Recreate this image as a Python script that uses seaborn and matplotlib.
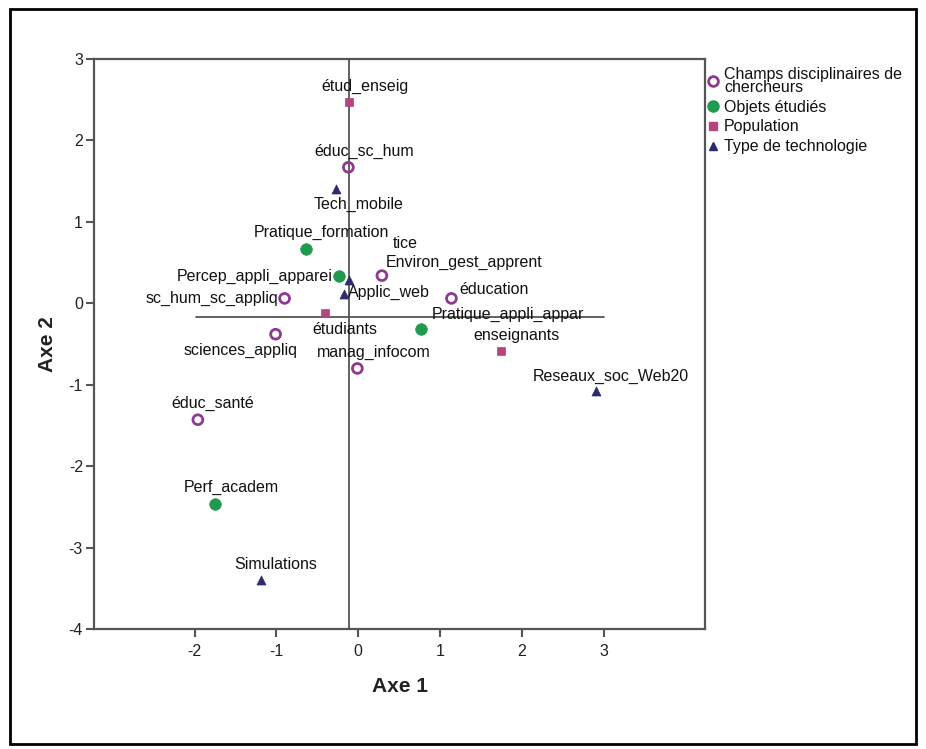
import matplotlib
matplotlib.use("Agg")
import matplotlib.pyplot as plt
from matplotlib.lines import Line2D
from matplotlib.patches import Rectangle
import seaborn as sns
import pandas as pd

sns.set_theme(style="white")
plt.rcParams['font.family'] = ['Liberation Sans', 'DejaVu Sans']

# ---------------- data ----------------
groups = ["Champs disciplinaires de\nchercheurs", "Objets étudiés", "Population", "Type de technologie"]

champs_labels = ["éduc_sc_hum", "tice", "sc_hum_sc_appliq", "éducation", "sciences_appliq", "manag_infocom", "éduc_santé"]
champs_x = [-0.12, 0.29, -0.90, 1.14, -1.01, -0.01, -1.96]
champs_y = [1.67, 0.34, 0.06, 0.06, -0.38, -0.80, -1.43]

objets_labels = ["Pratique_formation", "Percep_appli_apparei", "Pratique_appli_appar", "Perf_academ"]
objets_x = [-0.64, -0.24, 0.77, -1.75]
objets_y = [0.67, 0.33, -0.31, -2.47]

pop_labels = ["étud_enseig", "étudiants", "enseignants"]
pop_x = [-0.11, -0.40, 1.74]
pop_y = [2.47, -0.12, -0.59]

tech_labels = ["Tech_mobile", "Environ_gest_apprent", "Applic_web", "Reseaux_soc_Web20", "Simulations"]
tech_x = [-0.27, -0.11, -0.17, 2.91, -1.19]
tech_y = [1.40, 0.29, 0.11, -1.08, -3.40]

ref_x = -0.11
ref_y = -0.17
ref_y_span = [-1.98, 3.0]

x_ticks = [-2, -1, 0, 1, 2, 3]
y_ticks = [-4, -3, -2, -1, 0, 1, 2, 3]

# ---------------- styling / layout ----------------
colors = {groups[0]: "#8e3a8e", groups[1]: "#1f9a4f", groups[2]: "#b5447d", groups[3]: "#2b2b6e"}
markers = {groups[0]: "o", groups[1]: "o", groups[2]: "s", groups[3]: "^"}
sizes = {groups[0]: 50, groups[1]: 70, groups[2]: 36, groups[3]: 42}
FS = 11.5

# label offsets in pixels (dx, dy, ha, va)
offsets = {
    "éduc_sc_hum": (16, 16, "center", "center"),
    "tice": (23, 32, "center", "center"),
    "sc_hum_sc_appliq": (-6, 0, "right", "center"),
    "éducation": (8, 9, "left", "center"),
    "sciences_appliq": (-35, -16, "center", "center"),
    "manag_infocom": (16, 16, "center", "center"),
    "éduc_santé": (15, 16, "center", "center"),
    "Pratique_formation": (16, 16, "center", "center"),
    "Percep_appli_apparei": (-6, 0, "right", "center"),
    "Pratique_appli_appar": (87, 14, "center", "center"),
    "Perf_academ": (16, 17, "center", "center"),
    "étud_enseig": (16, 16, "center", "center"),
    "étudiants": (19, -16, "center", "center"),
    "enseignants": (16, 16, "center", "center"),
    "Tech_mobile": (22, -15, "center", "center"),
    "Environ_gest_apprent": (37, 17, "left", "center"),
    "Applic_web": (4, 2, "left", "center"),
    "Reseaux_soc_Web20": (15, 15, "center", "center"),
    "Simulations": (15, 16, "center", "center"),
}

frames = []
for g, labs, xs, ys in [(groups[0], champs_labels, champs_x, champs_y),
                         (groups[1], objets_labels, objets_x, objets_y),
                         (groups[2], pop_labels, pop_x, pop_y),
                         (groups[3], tech_labels, tech_x, tech_y)]:
    frames.append(pd.DataFrame({"label": labs, "x": xs, "y": ys, "group": g}))
df = pd.concat(frames, ignore_index=True)

W, H = 926, 749
fig = plt.figure(figsize=(W / 100, H / 100), dpi=100)
fig.patch.set_facecolor("white")
ax = fig.add_axes([94 / W, (H - 629) / H, 611 / W, 570 / H])
ax.set_facecolor("white")

# reference lines
ax.axvline(ref_x, color="#555555", lw=1.3, zorder=1)
ax.plot(ref_y_span, [ref_y, ref_y], color="#555555", lw=1.3, zorder=1)

for g in groups:
    sub = df[df["group"] == g]
    if g == groups[0]:
        sns.scatterplot(data=sub, x="x", y="y", ax=ax, marker="o", s=sizes[g],
                        color=colors[g], facecolor="none", edgecolor=colors[g],
                        linewidth=2, zorder=3, legend=False)
    else:
        sns.scatterplot(data=sub, x="x", y="y", ax=ax, marker=markers[g], s=sizes[g],
                        color=colors[g], edgecolor=colors[g], linewidth=0.5,
                        zorder=3, legend=False)

for _, r in df.iterrows():
    dx, dy, ha, va = offsets[r["label"]]
    ax.annotate(r["label"], (r["x"], r["y"]), xytext=(dx * 0.72, dy * 0.72),
                textcoords="offset points", ha=ha, va=va, fontsize=FS,
                color="#111111", zorder=4)

ax.set_xlim(-3.23, 4.24)
ax.set_ylim(-4, 3)
ax.set_xticks(x_ticks)
ax.set_yticks(y_ticks)
ax.set_xticklabels([str(t) for t in x_ticks], fontsize=FS, color="#222222")
ax.set_yticklabels([str(t) for t in y_ticks], fontsize=FS, color="#222222")
ax.tick_params(axis="x", direction="out", length=6, width=1.5, color="#555555",
               bottom=True, pad=5)
ax.tick_params(axis="y", direction="out", length=6, width=1.5, color="#555555",
               left=True, pad=2)
for sp in ax.spines.values():
    sp.set_visible(True)
    sp.set_color("#555555")
    sp.set_linewidth(1.6)
ax.set_xlabel("Axe 1", fontsize=15, fontweight="bold", color="#222222", labelpad=13)
ax.set_ylabel("Axe 2", fontsize=15, fontweight="bold", color="#222222", labelpad=8)
ax.grid(False)

handles = [
    Line2D([], [], marker="o", ls="none", markersize=7, markerfacecolor="none",
           markeredgecolor=colors[groups[0]], markeredgewidth=2),
    Line2D([], [], marker="o", ls="none", markersize=8, markerfacecolor=colors[groups[1]],
           markeredgecolor=colors[groups[1]]),
    Line2D([], [], marker="s", ls="none", markersize=6, markerfacecolor=colors[groups[2]],
           markeredgecolor=colors[groups[2]]),
    Line2D([], [], marker="^", ls="none", markersize=6, markerfacecolor=colors[groups[3]],
           markeredgecolor=colors[groups[3]]),
]
leg = ax.legend(handles, groups, loc="upper left", bbox_to_anchor=(0.997, 0.995),
                frameon=False, fontsize=FS, handlelength=0.6, handletextpad=0.4,
                labelspacing=0.3, borderaxespad=0.2, borderpad=0.1)
for t in leg.get_texts():
    t.set_linespacing(0.85)
    t.set_color("#111111")

fig.patches.append(Rectangle((10 / W, (H - 744) / H), 906 / W, 735 / H,
                             transform=fig.transFigure, fill=False,
                             edgecolor="black", linewidth=2))

fig.savefig("out.png", dpi=100, facecolor="white")
